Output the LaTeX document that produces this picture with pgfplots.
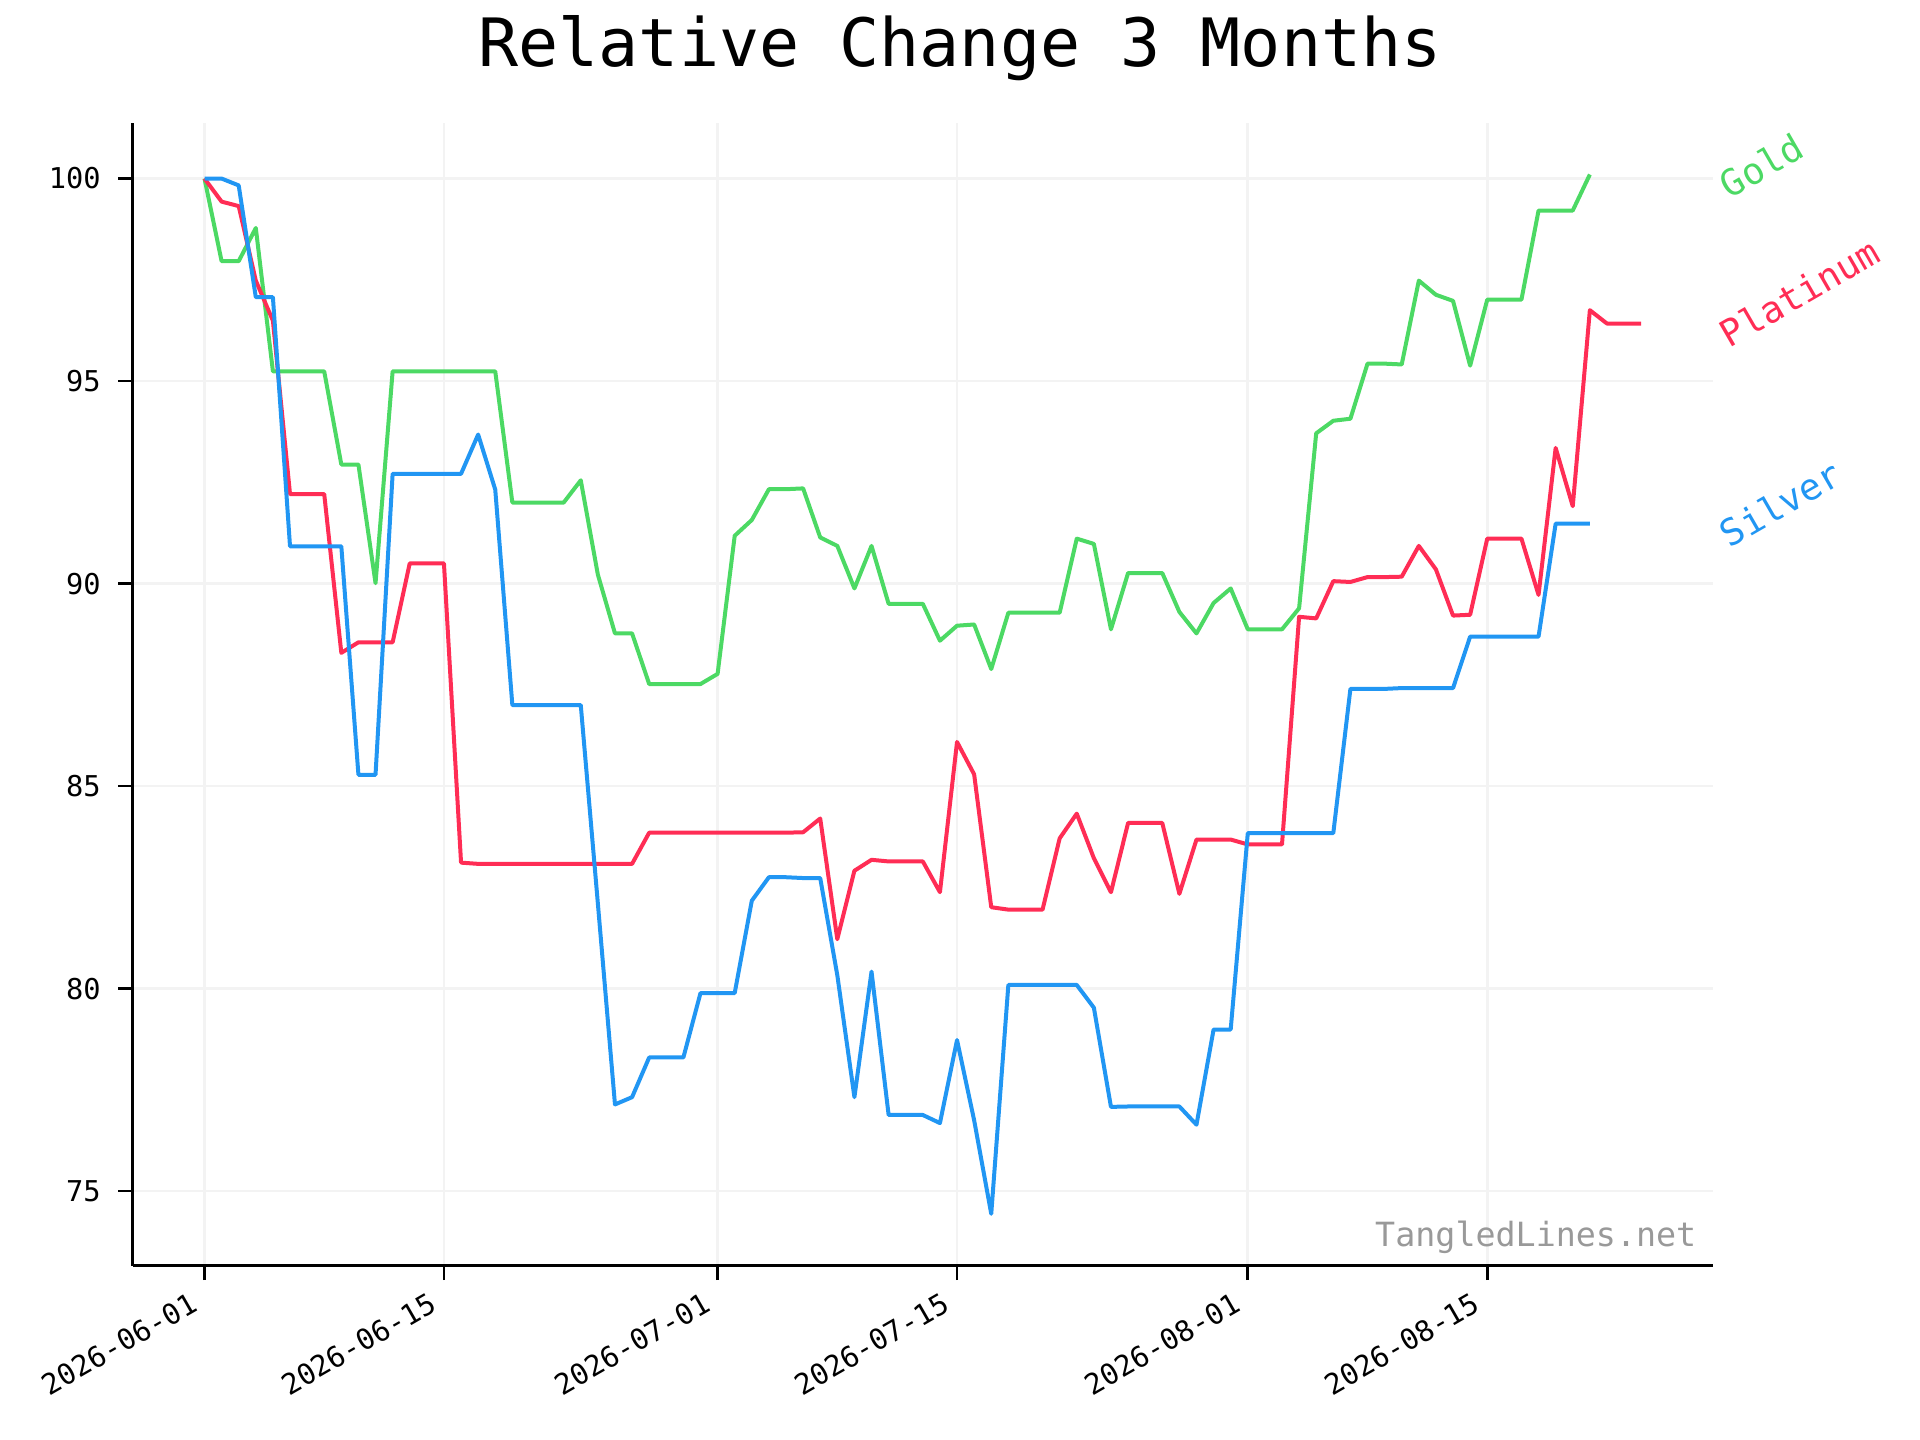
\documentclass[border=0pt]{standalone}
\usepackage{fontspec}
\setmainfont{DejaVu Sans Mono}
\usepackage{pgfplots}
\usepackage{pgfplotstable}
\pgfplotsset{compat=1.18}
\definecolor{cgold}{HTML}{4CD964}
\definecolor{cplat}{HTML}{FF2D55}
\definecolor{csilv}{HTML}{2196F3}
\definecolor{cgrid}{HTML}{F3F3F3}
\definecolor{cwm}{HTML}{999999}

\pgfplotstableread{
d v
0 100
1 97.96
2 97.96
3 98.78
4 95.24
5 95.24
6 95.24
7 95.24
8 92.94
9 92.94
10 90.01
11 95.24
12 95.24
13 95.24
14 95.24
15 95.24
16 95.24
17 95.24
18 92.00
19 92.00
20 92.00
21 92.00
22 92.55
23 90.22
24 88.77
25 88.77
26 87.52
27 87.52
28 87.52
29 87.52
30 87.77
31 91.18
32 91.57
33 92.33
34 92.33
35 92.35
36 91.14
37 90.93
38 89.88
39 90.93
40 89.50
41 89.50
42 89.50
43 88.59
44 88.96
45 88.99
46 87.89
47 89.28
48 89.28
49 89.28
50 89.28
51 91.11
52 90.98
53 88.87
54 90.26
55 90.26
56 90.26
57 89.30
58 88.77
59 89.52
60 89.88
61 88.87
62 88.87
63 88.87
64 89.39
65 93.71
66 94.02
67 94.07
68 95.43
69 95.43
70 95.41
71 97.48
72 97.13
73 96.98
74 95.38
75 97.01
76 97.01
77 97.01
78 99.21
79 99.21
80 99.21
81 100.10
}\gold

\pgfplotstableread{
d v
0 100
1 100
2 99.83
3 97.07
4 97.07
5 90.92
6 90.92
7 90.92
8 90.92
9 85.28
10 85.28
11 92.71
12 92.71
13 92.71
14 92.71
15 92.71
16 93.68
17 92.32
18 87.00
19 87.00
20 87.00
21 87.00
22 87.00
23 82.10
24 77.14
25 77.32
26 78.30
27 78.30
28 78.30
29 79.89
30 79.89
31 79.89
32 82.17
33 82.75
34 82.75
35 82.73
36 82.73
37 80.33
38 77.32
39 80.42
40 76.88
41 76.88
42 76.88
43 76.68
44 78.73
45 76.75
46 74.44
47 80.09
48 80.09
49 80.09
50 80.09
51 80.09
52 79.53
53 77.08
54 77.09
55 77.09
56 77.09
57 77.09
58 76.64
59 78.99
60 78.99
61 83.84
62 83.84
63 83.84
64 83.84
65 83.84
66 83.84
67 87.40
68 87.40
69 87.40
70 87.42
71 87.42
72 87.42
73 87.42
74 88.69
75 88.69
76 88.69
77 88.69
78 88.69
79 91.48
80 91.48
81 91.48
}\silver

\pgfplotstableread{
d v
0 100
1 99.43
2 99.32
3 97.48
4 96.49
5 92.21
6 92.21
7 92.21
8 88.29
9 88.55
10 88.55
11 88.55
12 90.50
13 90.50
14 90.50
15 83.11
16 83.08
17 83.08
18 83.08
19 83.08
20 83.08
21 83.08
22 83.08
23 83.08
24 83.08
25 83.08
26 83.85
27 83.85
28 83.85
29 83.85
30 83.85
31 83.85
32 83.85
33 83.85
34 83.85
35 83.86
36 84.20
37 81.22
38 82.91
39 83.18
40 83.14
41 83.14
42 83.14
43 82.38
44 86.09
45 85.29
46 82.01
47 81.95
48 81.95
49 81.95
50 83.71
51 84.32
52 83.22
53 82.38
54 84.09
55 84.09
56 84.09
57 82.34
58 83.68
59 83.68
60 83.68
61 83.56
62 83.56
63 83.56
64 89.18
65 89.14
66 90.06
67 90.04
68 90.16
69 90.16
70 90.17
71 90.93
72 90.35
73 89.21
74 89.23
75 91.11
76 91.11
77 91.11
78 89.72
79 93.35
80 91.91
81 96.75
82 96.42
83 96.42
84 96.42
}\plat

\begin{document}
\begin{tikzpicture}
\path[use as bounding box] (0,0) rectangle (576bp,432bp);
\begin{axis}[
  at={(39.8bp,52.3bp)}, anchor=south west,
  scale only axis, width=474.1bp, height=342.9bp,
  xmin=-4.2, xmax=88.2, ymin=73.16, ymax=101.38,
  axis x line*=bottom, axis y line*=left,
  axis line style={line width=0.8bp,-},
  tick align=outside, major tick length=4.3bp,
  every tick/.style={line width=0.8bp, black},
  xtick={0,14,30,44,61,75},
  xticklabels={2026-06-01,2026-06-15,2026-07-01,2026-07-15,2026-08-01,2026-08-15},
  ytick={75,80,85,90,95,100},
  grid=major, grid style={cgrid, line width=0.8bp},
  /pgf/number format/assume math mode=true,
  tick label style={font=\fontsize{8.6bp}{10bp}\selectfont},
  xticklabel style={xshift=-4.0bp, yshift=-0.4bp, rotate=30, anchor=north east, inner sep=2bp},
  yticklabel style={xshift=-1.8bp},
  clip=false,
  every axis plot/.append style={line width=1.2bp, line join=round},
]
\addplot[cgold] table[x=d, y=v] {\gold};
\addplot[cplat] table[x=d, y=v] {\plat};
\addplot[csilv] table[x=d, y=v] {\silver};
\node[xshift=3.6bp, yshift=-5.4bp, rotate=30, anchor=west, text=cgold, font=\fontsize{11bp}{13bp}\selectfont, inner sep=0pt, text height=0.76em, text depth=0.24em] at (axis cs:88.2,100.10) {Gold};
\node[xshift=3.6bp, yshift=-5.4bp, rotate=30, anchor=west, text=cplat, font=\fontsize{11bp}{13bp}\selectfont, inner sep=0pt, text height=0.76em, text depth=0.24em] at (axis cs:88.2,96.42) {Platinum};
\node[xshift=3.6bp, yshift=-5.4bp, rotate=30, anchor=west, text=csilv, font=\fontsize{11bp}{13bp}\selectfont, inner sep=0pt, text height=0.76em, text depth=0.24em] at (axis cs:88.2,91.48) {Silver};
\node[anchor=south east, text=cwm, font=\fontsize{10bp}{12bp}\selectfont, inner sep=0pt, xshift=-4.8bp, yshift=3.4bp] at (rel axis cs:1,0) {TangledLines.net};
\end{axis}
\node[anchor=base, font=\fontsize{20bp}{24bp}\selectfont] at (288bp,411.9bp) {Relative Change 3 Months};
\end{tikzpicture}
\end{document}
